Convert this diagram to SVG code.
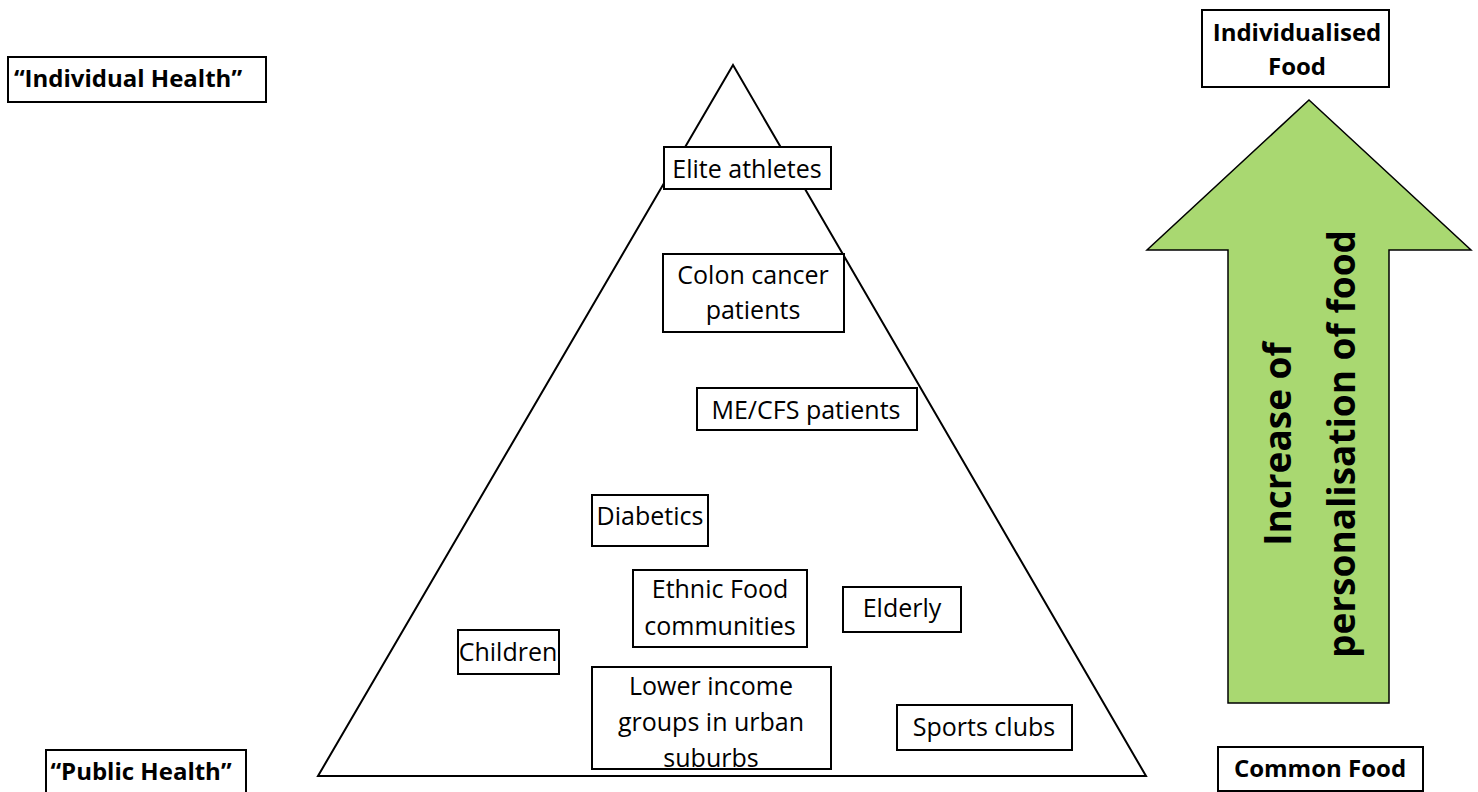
<svg xmlns="http://www.w3.org/2000/svg" width="1478" height="792" viewBox="0 0 1478 792">
  <style>
    .box { fill: #ffffff; stroke: #000000; stroke-width: 2; }
    .lbl { font-family: "Open Sans", "Liberation Sans", sans-serif; font-size: 25px; fill: #000000; text-anchor: middle; }
    .hdr { font-family: "Open Sans", "Liberation Sans", sans-serif; font-size: 24px; font-weight: bold; fill: #000000; text-anchor: middle; }
    .arrowtxt { font-family: "Open Sans", "Liberation Sans", sans-serif; font-size: 37px; font-weight: bold; fill: #000000; text-anchor: middle; }
  </style>
  <rect width="1478" height="792" fill="#ffffff"/>

  <!-- pyramid outline -->
  <g id="pyramid">
    <polygon points="733,65 318,776 1146,776" fill="none" stroke="#000000" stroke-width="2"/>
  </g>

  <!-- side headings -->
  <g id="individual-health">
    <rect class="box" x="8" y="57" width="258" height="45"/>
    <text class="hdr" x="128" y="87">“Individual Health”</text>
  </g>
  <g id="public-health">
    <rect class="box" x="46" y="750" width="200" height="50"/>
    <text class="hdr" x="141" y="780">“Public Health”</text>
  </g>
  <g id="individualised-food">
    <rect class="box" x="1202" y="10" width="187" height="77"/>
    <text class="hdr" x="1297" y="41">Individualised</text>
    <text class="hdr" x="1297" y="75">Food</text>
  </g>
  <g id="common-food">
    <rect class="box" x="1218" y="747" width="205" height="44"/>
    <text class="hdr" x="1320" y="777">Common Food</text>
  </g>

  <!-- personalisation arrow -->
  <g id="personalisation-arrow">
    <polygon points="1309,100 1471,250 1389,250 1389,703 1228,703 1228,250 1147,250" fill="#a9d871" stroke="#000000" stroke-width="1.5"/>
    <g transform="translate(1309,444) rotate(-90)">
      <text class="arrowtxt" x="0" y="-18">Increase of</text>
      <text class="arrowtxt" x="0" y="46">personalisation of food</text>
    </g>
  </g>

  <!-- population groups -->
  <g id="elite-athletes">
    <rect class="box" x="664" y="147" width="167" height="42"/>
    <text class="lbl" x="747" y="178">Elite athletes</text>
  </g>
  <g id="colon-cancer">
    <rect class="box" x="663" y="254" width="181" height="78"/>
    <text class="lbl" x="753" y="284">Colon cancer</text>
    <text class="lbl" x="753" y="319">patients</text>
  </g>
  <g id="me-cfs">
    <rect class="box" x="697" y="388" width="220" height="42"/>
    <text class="lbl" x="806" y="419">ME/CFS patients</text>
  </g>
  <g id="diabetics">
    <rect class="box" x="592" y="495" width="116" height="51"/>
    <text class="lbl" x="650" y="525">Diabetics</text>
  </g>
  <g id="ethnic-food">
    <rect class="box" x="633" y="570" width="174" height="77"/>
    <text class="lbl" x="720" y="598">Ethnic Food</text>
    <text class="lbl" x="720" y="635">communities</text>
  </g>
  <g id="elderly">
    <rect class="box" x="843" y="587" width="118" height="45"/>
    <text class="lbl" x="902" y="617">Elderly</text>
  </g>
  <g id="children">
    <rect class="box" x="458" y="630" width="101" height="44"/>
    <text class="lbl" x="508" y="661">Children</text>
  </g>
  <g id="lower-income">
    <rect class="box" x="592" y="667" width="239" height="102"/>
    <text class="lbl" x="711" y="695">Lower income</text>
    <text class="lbl" x="711" y="731">groups in urban</text>
    <text class="lbl" x="711" y="767">suburbs</text>
  </g>
  <g id="sports-clubs">
    <rect class="box" x="897" y="705" width="175" height="45"/>
    <text class="lbl" x="984" y="736">Sports clubs</text>
  </g>
</svg>
